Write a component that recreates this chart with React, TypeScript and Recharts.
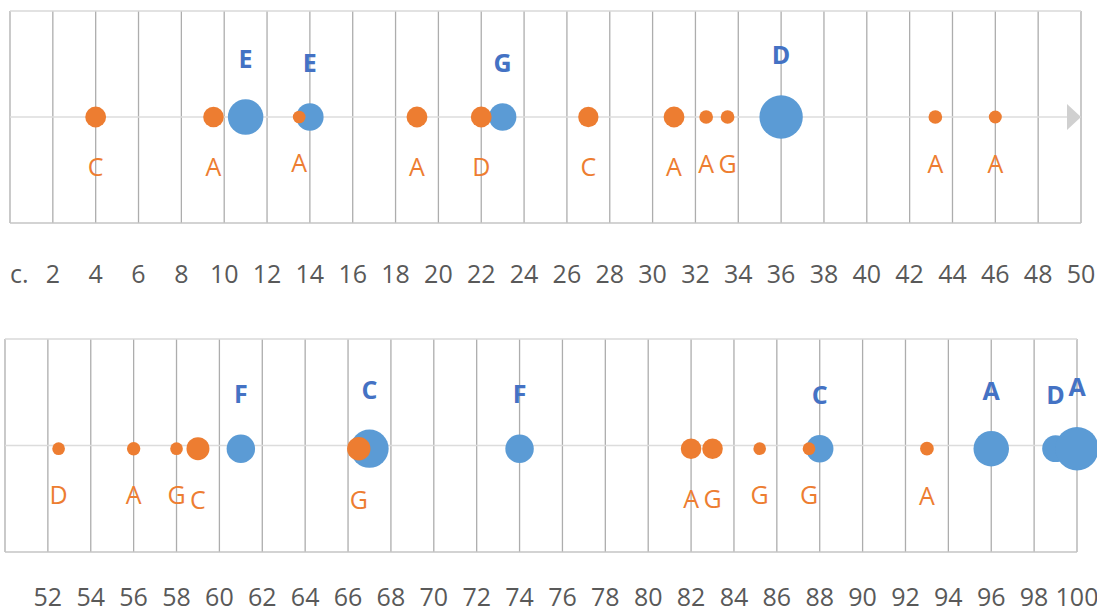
import React from 'react'
import {
  ScatterChart,
  Scatter,
  XAxis,
  YAxis,
  ZAxis,
  CartesianGrid,
  ReferenceLine,
  ReferenceDot
} from 'recharts'

const ORANGE = '#ED7D31'
const BLUE = '#5B9BD5'
const BLUE_TEXT = '#4472C4'
const GRID = '#adadad'
const FONT = '"Open Sans", sans-serif'

// upper strip: c. – 50
const topTicks = [0, 2, 4, 6, 8, 10, 12, 14, 16, 18, 20, 22, 24, 26, 28, 30, 32, 34, 36, 38, 40, 42, 44, 46, 48, 50]
const topTickLabels = ['c.', '2', '4', '6', '8', '10', '12', '14', '16', '18', '20', '22', '24', '26', '28', '30', '32', '34', '36', '38', '40', '42', '44', '46', '48', '50']

const topOrangeX = [4, 9.5, 13.5, 19, 22, 27, 31, 32.5, 33.5, 43.2, 46]
const topOrangeSize = [2.3, 2.25, 0.85, 2.3, 2.3, 2.2, 2.3, 1.0, 1.0, 1.0, 0.9]
const topOrangeLabels = ['C', 'A', 'A', 'A', 'D', 'C', 'A', 'A', 'G', 'A', 'A']

const topBlueX = [11, 14, 23, 36]
const topBlueSize = [6.7, 4, 4, 10]
const topBlueLabels = ['E', 'E', 'G', 'D']

// lower strip: 50 – 100
const bottomTicks = [50, 52, 54, 56, 58, 60, 62, 64, 66, 68, 70, 72, 74, 76, 78, 80, 82, 84, 86, 88, 90, 92, 94, 96, 98, 100]
const bottomTickLabels = ['', '52', '54', '56', '58', '60', '62', '64', '66', '68', '70', '72', '74', '76', '78', '80', '82', '84', '86', '88', '90', '92', '94', '96', '98', '100']

const bottomOrangeX = [52.5, 56, 58, 59, 66.5, 82, 83, 85.2, 87.5, 93]
const bottomOrangeSize = [0.85, 0.95, 0.85, 2.8, 2.9, 2.25, 2.25, 0.85, 0.85, 1.0]
const bottomOrangeLabels = ['D', 'A', 'G', 'C', 'G', 'A', 'G', 'G', 'G', 'A']

const bottomBlueX = [61, 67, 74, 88, 96, 99, 100]
const bottomBlueSize = [4.3, 7.8, 4.3, 4, 6.7, 3.8, 10]
const bottomBlueLabels = ['F', 'C', 'F', 'C', 'A', 'D', 'A']

const toPoints = (xs: number[], sizes: number[], labels: string[], y: number) =>
  xs.map((x, i) => ({ x, y, z: sizes[i], label: labels[i] }))

const Bubble = (props: any) => {
  const { cx, cy, width, payload, fill, textFill, above, bold } = props
  const r = width / 2
  return (
    <g>
      <circle cx={cx} cy={cy} r={r} fill={fill} />
      <text
        x={cx}
        y={above ? cy - r - 31 : cy + r + 49}
        textAnchor="middle"
        fill={textFill}
        fontFamily={FONT}
        fontSize={25}
        fontWeight={bold ? 700 : 400}
      >
        {payload.label}
      </text>
    </g>
  )
}

const AxisTick = (props: any) => {
  const { x, y, payload, ticks, labels, dy } = props
  const text = labels[ticks.indexOf(payload.value)]
  if (!text) return <g />
  return (
    <text
      x={x}
      y={y + dy}
      textAnchor={text === 'c.' ? 'start' : 'middle'}
      fill="#595959"
      fontFamily={FONT}
      fontSize={25}
    >
      {text}
    </text>
  )
}

const Arrow = (props: any) => {
  const { cx, cy } = props
  return <polygon points={`${cx},${cy} ${cx - 14},${cy - 13} ${cx - 14},${cy + 13}`} fill="#d0d0d0" />
}

interface StripProps {
  width: number
  height: number
  margin: { top: number; right: number; left: number; bottom: number }
  axisHeight: number
  domain: [number, number]
  ticks: number[]
  labels: string[]
  tickDy: number
  orange: any[]
  blue: any[]
  arrow?: boolean
}

function Strip({ width, height, margin, axisHeight, domain, ticks, labels, tickDy, orange, blue, arrow }: StripProps) {
  return (
    <ScatterChart width={width} height={height} margin={margin}>
      <CartesianGrid horizontal={false} stroke={GRID} strokeWidth={1.3} />
      <XAxis
        type="number"
        dataKey="x"
        domain={domain}
        ticks={ticks}
        interval={0}
        axisLine={false}
        tickLine={false}
        height={axisHeight}
        tick={(p: any) => <AxisTick {...p} ticks={ticks} labels={labels} dy={tickDy} />}
      />
      <YAxis type="number" dataKey="y" domain={[-1, 1]} hide />
      <ZAxis type="number" dataKey="z" domain={[0, 10]} range={[0, 1479]} />
      <ReferenceLine y={1} stroke="#d9d9d9" strokeWidth={1.5} />
      <ReferenceLine y={-1} stroke="#c4c4c4" strokeWidth={1.5} />
      <ReferenceLine y={0} stroke="#dcdcdc" strokeWidth={1.5} />
      {arrow && <ReferenceDot x={domain[1]} y={0} shape={Arrow} />}
      <Scatter
        data={blue}
        isAnimationActive={false}
        shape={(p: any) => <Bubble {...p} fill={BLUE} textFill={BLUE_TEXT} above bold />}
      />
      <Scatter
        data={orange}
        isAnimationActive={false}
        shape={(p: any) => <Bubble {...p} fill={ORANGE} textFill={ORANGE} />}
      />
    </ScatterChart>
  )
}

export default function App() {
  return (
    <div style={{ position: 'absolute', left: 0, top: 0, width: 1097, height: 614, background: '#fff' }}>
      <div style={{ position: 'absolute', left: 0, top: 0 }}>
        <Strip
          width={1097}
          height={300}
          margin={{ top: 11, right: 16, left: 10, bottom: 0 }}
          axisHeight={77}
          domain={[0, 50]}
          ticks={topTicks}
          labels={topTickLabels}
          tickDy={52}
          orange={toPoints(topOrangeX, topOrangeSize, topOrangeLabels, 0)}
          blue={toPoints(topBlueX, topBlueSize, topBlueLabels, 0)}
          arrow
        />
      </div>
      <div style={{ position: 'absolute', left: 0, top: 300 }}>
        <Strip
          width={1097}
          height={314}
          margin={{ top: 39, right: 20, left: 5, bottom: 0 }}
          axisHeight={62}
          domain={[50, 100]}
          ticks={bottomTicks}
          labels={bottomTickLabels}
          tickDy={46}
          orange={toPoints(bottomOrangeX, bottomOrangeSize, bottomOrangeLabels, -0.03)}
          blue={toPoints(bottomBlueX, bottomBlueSize, bottomBlueLabels, -0.03)}
        />
      </div>
    </div>
  )
}
